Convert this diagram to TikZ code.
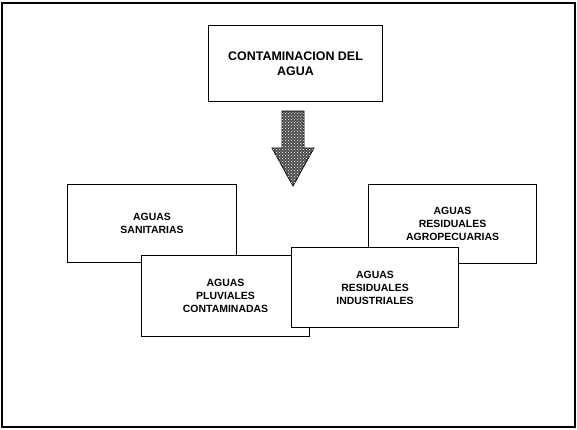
\documentclass[tikz,border=0pt]{standalone}
\usepackage{fontspec}
\setmainfont{Liberation Sans}
\usepackage{tikz}
\usetikzlibrary{patterns}

\begin{document}
\begin{tikzpicture}[x=1bp, y=-1bp,
      every node/.style={font=\bfseries\fontsize{10.5}{13}\selectfont},
      box/.style={draw=black, fill=white, line width=1.1pt, align=center,
                  inner sep=0pt, anchor=north west},
      bigarrow/.style={draw=black, line width=0.8pt, fill=black!70,
                  postaction={pattern=crosshatch dots, pattern color=white}}]
    \useasboundingbox (0,0) rectangle (577,429);
    \draw[line width=1.4pt] (2,3) rectangle (575,427);
    \node[box, minimum width=174bp, minimum height=76bp,
          font=\bfseries\fontsize{12.5}{15}\selectfont] (agua) at (208,25)
          {CONTAMINACION DEL\\AGUA};
    % flecha gruesa
    \draw[bigarrow] (282,111) -- (304,111) -- (304,148) -- (314,148) -- (293,186)
          -- (272,148) -- (282,148) -- cycle;
    \node[box, minimum width=169bp, minimum height=78bp] (sanit) at (67,184) {AGUAS\\SANITARIAS};
    \node[box, minimum width=168bp, minimum height=81bp] (pluv) at (141,255) {AGUAS\\PLUVIALES\\CONTAMINADAS};
    \node[box, minimum width=168bp, minimum height=79bp] (agro) at (368,184) {AGUAS\\RESIDUALES\\AGROPECUARIAS};
    \node[box, minimum width=167bp, minimum height=80bp] (indus) at (291,247) {AGUAS\\RESIDUALES\\INDUSTRIALES};
  \end{tikzpicture}
\end{document}
